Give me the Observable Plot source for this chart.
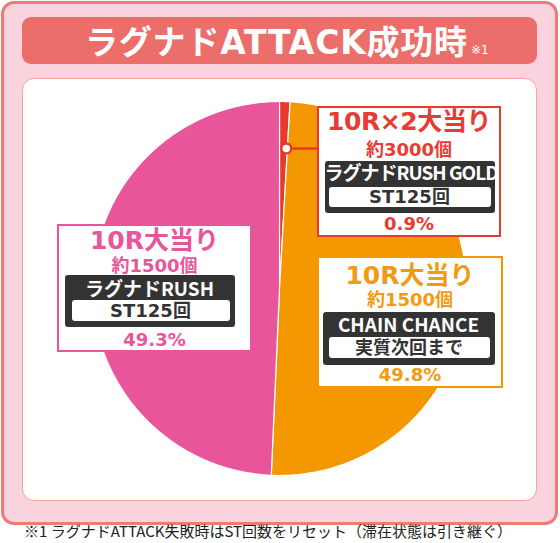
<!DOCTYPE html>
<html><head><meta charset="utf-8">
<script src="https://cdn.jsdelivr.net/npm/d3@7"></script>
<script src="https://cdn.jsdelivr.net/npm/@observablehq/plot@0.6"></script>
<style>
html,body{margin:0;padding:0;background:#fff;}
body{font-family:"Noto Sans CJK JP","Noto Sans",sans-serif;}
#wrap{position:relative;width:560px;height:543px;overflow:hidden;}
.frame{position:absolute;left:1px;top:1px;width:557px;height:524px;box-sizing:border-box;border:3px solid #EE7B74;border-radius:13px;background:#F9D4DF;}
.banner{position:absolute;left:22px;top:17px;width:515px;height:47px;border-radius:9px;background:#EC6E6A;}
.banner .tt{position:absolute;left:63px;top:2px;height:47px;line-height:47px;color:#fff;font-family:"DejaVu Sans","Noto Sans CJK JP",sans-serif;font-weight:700;font-size:33px;letter-spacing:0.8px;white-space:nowrap;}
.banner .tt span{font-size:12px;font-weight:400;margin-left:3px;letter-spacing:0;}
.panel{position:absolute;left:22px;top:78px;width:515px;height:423px;box-sizing:border-box;border:1px solid #F2A39D;border-radius:12px;background:#fff;}
.lab{position:absolute;box-sizing:border-box;border:2.5px solid;background:#fff;font-weight:700;text-align:center;}
.lab div{position:absolute;white-space:nowrap;}
.lab .t1,.lab .t2,.lab .pc{left:0;right:0;font-family:"DejaVu Sans","Noto Sans CJK JP",sans-serif;}
.lab .t1{font-size:25px;height:30px;line-height:30px;}
.lab .t2{font-size:18px;height:22px;line-height:22px;}
.lab .pc{font-size:18px;height:22px;line-height:22px;}
.lab .dk{background:#333;border-radius:3px;}
.lab .nm{left:0;right:0;height:24px;line-height:24px;color:#fff;font-size:19px;}
.lab .sb{background:#fff;border-radius:3px;color:#333;font-size:18px;text-align:center;font-family:"DejaVu Sans","Noto Sans CJK JP",sans-serif;}
.foot{position:absolute;left:24px;top:521px;font-size:15px;line-height:20px;color:#222;white-space:nowrap;}
</style></head>
<body>
<div id="wrap">
  <div class="frame"></div>
  <div class="banner"><div class="tt" id="title"></div></div>
  <div class="panel"></div>
  <div id="chart"></div>
  <div class="foot" id="foot"></div>
</div>
<script>
// ---- data ----
const keys = ["gold", "chain", "rush"];
const heads = ["10R×2大当り", "10R大当り", "10R大当り"];
const balls = ["約3000個", "約1500個", "約1500個"];
const modes = ["ラグナドRUSH GOLD", "CHAIN CHANCE", "ラグナドRUSH"];
const subs = ["ST125回", "実質次回まで", "ST125回"];
const shares = [0.9, 49.8, 49.3];
const colors = ["#E8392F", "#F39800", "#E8559B"];
const textColors = ["#E83B33", "#F29A12", "#E8559B"];
const titleText = "ラグナドATTACK成功時";
const titleNote = "※1";
const footText = "※1 ラグナドATTACK失敗時はST回数をリセット（滞在状態は引き継ぐ）";

// ---- layout (outer-box relative; t1/t2/nm/pc are text centres) ----
const cx = 279, cy = 288, R = 187;
const boxes = [
  {left:317, top:106, w:184, h:131, t1:16, t1Sp:-0.4, t2:44, pc:118,
   dk:{l:8, t:55, w:170, h:52, nm:12, nmSp:-1, inT:26, inH:20, inL:4, inR:4}},
  {left:317, top:256, w:186, h:132, t1:20, t1Sp:0, t2:44, pc:119,
   dk:{l:6, t:56, w:172, h:53, nm:13, nmSp:0, inT:25, inH:21, inL:6, inR:5}},
  {left:57,  top:224, w:195, h:128, t1:17, t1Sp:0, t2:42, pc:116,
   dk:{l:8, t:51, w:170, h:52, nm:14, nmSp:0, inT:25, inH:21, inL:7, inR:5}}
];
const bw = 2.5;

document.getElementById("title").innerHTML = titleText + "<span>" + titleNote + "</span>";
document.getElementById("foot").textContent = footText;

// pie polygons
const pts = [];
let acc = 0;
shares.forEach((s, i) => {
  const a0 = acc / 100 * 2 * Math.PI, a1 = (acc + s) / 100 * 2 * Math.PI;
  acc += s;
  const n = Math.max(2, Math.ceil((a1 - a0) / (Math.PI / 360)));
  pts.push({k: keys[i], x: 0, y: 0});
  for (let j = 0; j <= n; ++j) {
    const a = a0 + (a1 - a0) * j / n;
    pts.push({k: keys[i], x: Math.sin(a), y: Math.cos(a)});
  }
  pts.push({k: keys[i], x: 0, y: 0});
});
const midA = shares[0] * 0.85 / 100 * 2 * Math.PI;
const conn = [{x1: 0.75 * Math.sin(midA), y1: 0.75 * Math.cos(midA), x2: (boxes[0].left + 1 - cx) / R}];

const svg = Plot.plot({
  width: 560, height: 543, margin: 0,
  style: "position:absolute;left:0;top:0;background:transparent;overflow:visible",
  x: {domain: [-1, 1], range: [cx - R, cx + R], axis: null},
  y: {domain: [-1, 1], range: [cy + R, cy - R], axis: null},
  color: {domain: keys, range: colors},
  marks: [
    Plot.line(pts, {x: "x", y: "y", z: "k", fill: "k", stroke: "white", strokeWidth: 1.2}),
    Plot.link(conn, {x1: "x1", y1: "y1", x2: "x2", y2: "y1", stroke: colors[0], strokeWidth: 2.5}),
    Plot.dot(conn, {x: "x1", y: "y1", r: 5, fill: "white", stroke: colors[0], strokeWidth: 2.5})
  ]
});
document.getElementById("chart").appendChild(svg);

// label boxes
const wrap = document.getElementById("wrap");
keys.forEach((k, i) => {
  const b = boxes[i], c = textColors[i], dk = b.dk;
  const d = document.createElement("div");
  d.className = "lab";
  d.style.cssText = `left:${b.left}px;top:${b.top}px;width:${b.w}px;height:${b.h}px;border-color:${colors[i]};`;
  d.innerHTML =
    `<div class="t1" style="top:${b.t1 - bw - 15}px;color:${c};letter-spacing:${b.t1Sp}px">${heads[i]}</div>` +
    `<div class="t2" style="top:${b.t2 - bw - 11}px;color:${c}">${balls[i]}</div>` +
    `<div class="dk" style="left:${dk.l - bw}px;top:${dk.t - bw}px;width:${dk.w}px;height:${dk.h}px">` +
      `<div class="nm" style="top:${dk.nm - 13}px;letter-spacing:${dk.nmSp}px">${modes[i]}</div>` +
      `<div class="sb" style="left:${dk.inL}px;right:${dk.inR}px;top:${dk.inT}px;height:${dk.inH}px;line-height:${dk.inH}px">${subs[i]}</div>` +
    `</div>` +
    `<div class="pc" style="top:${b.pc - bw - 11}px;color:${c}">${shares[i]}%</div>`;
  wrap.appendChild(d);
});
</script>
</body></html>
